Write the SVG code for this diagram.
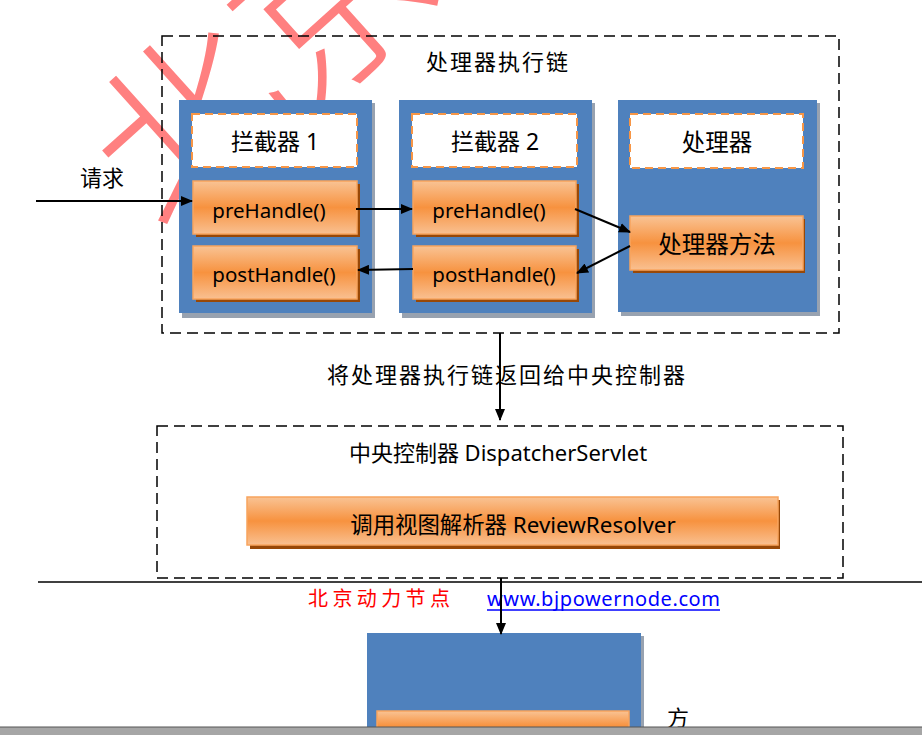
<svg xmlns="http://www.w3.org/2000/svg" width="922" height="735" viewBox="0 0 922 735">
<style>
.t{font-family:"Noto Sans","Noto Sans CJK SC",sans-serif;fill:#000}
.c{text-anchor:middle}
.blue{fill:#4f81bd}
.bsh{fill:#98a2b0}
.osh{fill:#984807}
.orange{fill:url(#og);stroke:#f8a45e;stroke-width:1.5}
.lbl{fill:#fff;stroke:#f79646;stroke-width:2;stroke-dasharray:8 5}
.dash{fill:none;stroke:#000;stroke-width:1.5;stroke-dasharray:11 6}
.ln{stroke:#000;stroke-width:2;fill:none}
</style>
<defs>
<linearGradient id="og" x1="0" y1="0" x2="0" y2="1">
<stop offset="0" stop-color="#f9c394"/>
<stop offset="0.5" stop-color="#f7923f"/>
<stop offset="1" stop-color="#f9c091"/>
</linearGradient>
<marker id="ah" viewBox="0 0 12 10" refX="11" refY="5" markerWidth="12" markerHeight="10" markerUnits="userSpaceOnUse" orient="auto">
<path d="M0,0 L12,5 L0,10 z" fill="#000"/>
</marker>
</defs>
<rect width="922" height="735" fill="#fff"/>
<g id="watermark">
<text x="165" y="240" transform="rotate(-42 165 240)" font-family="'Noto Sans CJK SC',serif" font-weight="200" font-size="190" fill="#ff8080">北京</text>
</g>
<g id="chain">
<rect class="dash" x="162" y="36" width="677" height="297"/>
<text class="t c" x="497" y="70" font-size="22" textLength="142">处理器执行链</text>
</g>
<g id="interceptor1">
<rect class="bsh" x="182" y="103" width="193" height="215"/>
<rect class="blue" x="179" y="100" width="193" height="213"/>
<rect class="lbl" x="192" y="114" width="165" height="53"/>
<text class="t c" x="275" y="150" font-size="23">拦截器 1</text>
</g>
<g id="preHandle1">
<rect class="osh" x="196" y="184" width="164" height="53"/>
<rect class="orange" x="193" y="181" width="164" height="53"/>
<text class="t c" x="269" y="218" font-size="20.5">preHandle()</text>
</g>
<g id="postHandle1">
<rect class="osh" x="196" y="249" width="164" height="53"/>
<rect class="orange" x="193" y="246" width="164" height="53"/>
<text class="t c" x="274" y="282" font-size="20.5">postHandle()</text>
</g>
<g id="interceptor2">
<rect class="bsh" x="402" y="103" width="193" height="215"/>
<rect class="blue" x="399" y="100" width="193" height="213"/>
<rect class="lbl" x="412" y="114" width="165" height="53"/>
<text class="t c" x="495" y="150" font-size="23">拦截器 2</text>
</g>
<g id="preHandle2">
<rect class="osh" x="416" y="184" width="163" height="53"/>
<rect class="orange" x="413" y="181" width="163" height="53"/>
<text class="t c" x="489" y="218" font-size="20.5">preHandle()</text>
</g>
<g id="postHandle2">
<rect class="osh" x="416" y="249" width="163" height="53"/>
<rect class="orange" x="413" y="246" width="163" height="53"/>
<text class="t c" x="494" y="282" font-size="20.5">postHandle()</text>
</g>
<g id="handler">
<rect class="bsh" x="621" y="103" width="199" height="213"/>
<rect class="blue" x="618" y="100" width="199" height="212"/>
<rect class="lbl" x="630" y="114" width="173" height="54"/>
<text class="t c" x="717" y="151" font-size="23.5">处理器</text>
</g>
<g id="handlerMethod">
<rect class="osh" x="633" y="219" width="172" height="54"/>
<rect class="orange" x="630" y="216" width="173" height="54"/>
<text class="t c" x="717" y="253" font-size="23.5">处理器方法</text>
</g>
<g id="dispatcher">
<rect class="dash" x="157" y="426" width="686" height="152"/>
<text class="t c" x="498" y="461" font-size="22">中央控制器 DispatcherServlet</text>
</g>
<g id="viewResolver">
<rect class="osh" x="250" y="500" width="530" height="49"/>
<rect class="orange" x="247" y="497" width="531" height="48"/>
<text class="t c" x="513" y="533" font-size="22.4">调用视图解析器 ReviewResolver</text>
</g>
<g id="footer">
<line x1="38" y1="582" x2="922" y2="582" stroke="#000" stroke-width="1.5"/>
<text x="308" y="606" font-family="'Noto Sans CJK SC',serif" font-size="20" fill="#ff0000" letter-spacing="4.4">北京动力节点</text>
<text x="487" y="606" font-family="'Noto Sans',sans-serif" font-size="20" fill="#0000ff" textLength="233">www.bjpowernode.com</text>
<line x1="487" y1="610" x2="720" y2="610" stroke="#0000ff" stroke-width="1.5"/>
</g>
<g id="bottomNode">
<rect class="bsh" x="370" y="636" width="274" height="99"/>
<rect class="blue" x="367" y="633" width="274" height="102"/>
<rect class="orange" x="377" y="711" width="252" height="30"/>
<text class="t" x="667" y="726" font-size="22">方</text>
</g>
<g id="connectors">
<line class="ln" x1="36" y1="201" x2="192" y2="201" marker-end="url(#ah)"/>
<text class="t c" x="102" y="186" font-size="22">请求</text>
<line class="ln" x1="356" y1="209" x2="412" y2="209" marker-end="url(#ah)"/>
<line class="ln" x1="575" y1="209" x2="630" y2="232" marker-end="url(#ah)"/>
<line class="ln" x1="630" y1="246" x2="577" y2="273" marker-end="url(#ah)"/>
<line class="ln" x1="413" y1="269" x2="358" y2="270" marker-end="url(#ah)"/>
<line class="ln" x1="500" y1="333" x2="500" y2="420" marker-end="url(#ah)"/>
<text class="t c" x="506" y="383" font-size="22" textLength="358">将处理器执行链返回给中央控制器</text>
<line class="ln" x1="501" y1="578" x2="501" y2="634" marker-end="url(#ah)"/>
</g>
<g id="statusbar">
<rect x="0" y="727" width="922" height="8" fill="#a6a6a6"/>
<line x1="0" y1="727" x2="922" y2="727" stroke="#555" stroke-width="1"/>
</g>
</svg>
